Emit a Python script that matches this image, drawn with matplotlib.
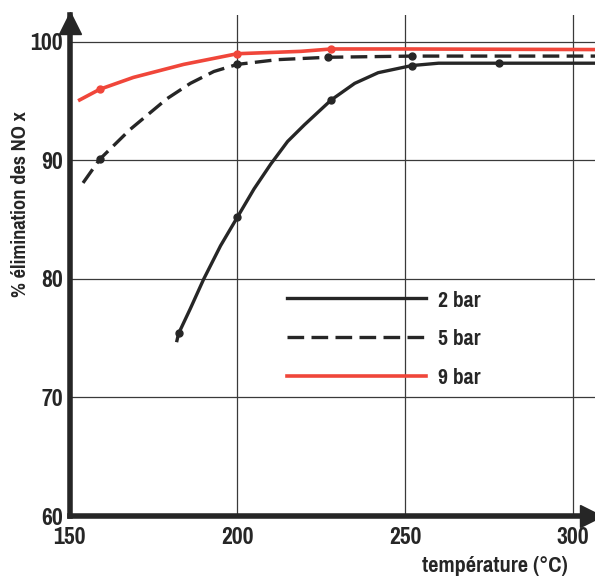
import matplotlib.pyplot as plt
from matplotlib import font_manager

# temperature (°C) / % NOx removal
t_2bar = [182, 182.5, 186, 190, 195, 200, 205, 210, 215, 220, 228, 235, 242, 252, 260, 278, 307]
p_2bar = [74.8, 75.4, 77.5, 80.0, 82.8, 85.2, 87.6, 89.7, 91.6, 93.0, 95.1, 96.5, 97.4, 98.0, 98.2, 98.2, 98.2]
t_2bar_pts = [182.5, 200, 228, 252, 278]
p_2bar_pts = [75.4, 85.2, 95.1, 98.0, 98.2]

t_5bar = [154, 159, 168, 179, 186, 193, 200, 212, 227, 252, 307]
p_5bar = [88.1, 90.1, 92.6, 95.2, 96.5, 97.5, 98.1, 98.5, 98.7, 98.8, 98.8]
t_5bar_pts = [159, 200, 227, 252]
p_5bar_pts = [90.1, 98.1, 98.7, 98.8]

t_9bar = [153, 159, 169, 184, 200, 219, 228, 250, 307]
p_9bar = [95.1, 96.0, 97.0, 98.1, 99.0, 99.2, 99.4, 99.4, 99.35]
t_9bar_pts = [159, 200, 228]
p_9bar_pts = [96.0, 99.0, 99.4]

xticks = [150, 200, 250, 300]
yticks = [60, 70, 80, 90, 100]

# look for a narrow bold face, the scan uses a condensed grotesque
narrow = None
cands = []
for f in font_manager.fontManager.ttflist:
    fn = f.fname.lower()
    if 'bold' not in fn or 'oblique' in fn or 'italic' in fn:
        continue
    if 'narrow' in fn:
        cands.insert(0, f.fname)
    elif 'condensed' in fn:
        cands.append(f.fname)
if cands:
    narrow = cands[0]
is_narrow = narrow is not None and 'narrow' in narrow.lower()


def fprop(size):
    if narrow:
        return font_manager.FontProperties(fname=narrow, size=size)
    return font_manager.FontProperties(family='DejaVu Sans', weight='bold', size=size)


tick_size = 18.5 if is_narrow else 14
lab_size = 16 if is_narrow else 14
xlab_size = 17.5 if is_narrow else 14
leg_size = 17 if is_narrow else 14

dark = '#262626'
red = '#f0463a'

fig = plt.figure(figsize=(5.95, 5.77), dpi=100)
ax = fig.add_axes([0.117, 0.1057, 0.885, 0.869])

ax.plot(t_2bar, p_2bar, color=dark, lw=2.4, label='2 bar')
ax.plot(t_5bar, p_5bar, color=dark, lw=2.4, dashes=(5, 2.2), label='5 bar')
ax.plot(t_9bar, p_9bar, color=red, lw=2.6, label='9 bar')

ax.plot(t_2bar_pts, p_2bar_pts, 'o', color=dark, ms=5, zorder=4)
ax.plot(t_5bar_pts, p_5bar_pts, 'o', color=dark, ms=5, zorder=4)
ax.plot(t_9bar_pts, p_9bar_pts, 'o', color=red, ms=5, zorder=4)

ax.set_xlim(150, 307)
ax.set_ylim(60, 102.3)
ax.set_xticks(xticks)
ax.set_yticks(yticks)
ax.grid(True, color='#3a3a3a', lw=0.9)
ax.set_axisbelow(True)

for s in ['top', 'right']:
    ax.spines[s].set_visible(False)
for s in ['left', 'bottom']:
    ax.spines[s].set_linewidth(4)
    ax.spines[s].set_color(dark)

ax.tick_params(length=0, colors=dark)
ax.tick_params(axis='x', pad=8)
ax.tick_params(axis='y', pad=5)
for lab in ax.get_xticklabels() + ax.get_yticklabels():
    lab.set_fontproperties(fprop(tick_size))

# arrow heads on the axes
ax.plot([0], [0.983], marker='^', ms=16, color=dark, transform=ax.transAxes, clip_on=False)
ax.plot([0.99], [0], marker='>', ms=16, color=dark, transform=ax.transAxes, clip_on=False)

fig.text(21 / 595, 1 - 204 / 577, '% élimination des NO x', rotation=90, ha='center', va='center',
         fontproperties=fprop(lab_size), color=dark)
fig.text(568 / 595, 1 - 566 / 577, 'température (°C)', ha='right', va='center',
         fontproperties=fprop(xlab_size), color=dark)

leg = ax.legend(loc='upper left', bbox_to_anchor=(287 / 595, 1 - 290 / 577), bbox_transform=fig.transFigure,
                frameon=False, handlelength=5.9, handletextpad=0.5, labelspacing=0.78,
                borderpad=0, borderaxespad=0, prop=fprop(leg_size))
for txt in leg.get_texts():
    txt.set_color(dark)

fig.savefig('out.png', dpi=100, facecolor='white')
